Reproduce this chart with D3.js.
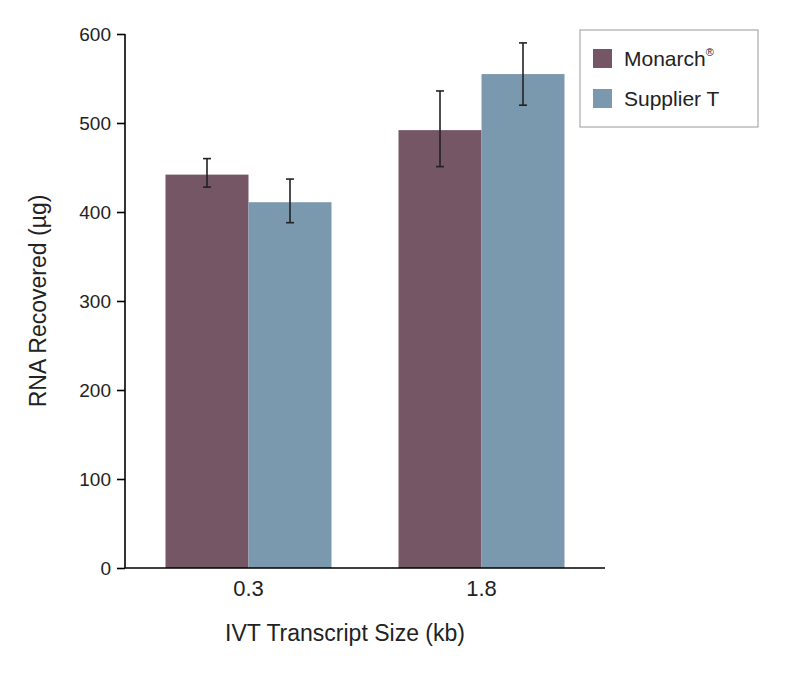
<!DOCTYPE html>
<html><head><meta charset="utf-8">
<script src="https://cdn.jsdelivr.net/npm/d3@7"></script>
<style>body{margin:0;background:#fff}</style>
</head><body>
<script>
var categories = ["0.3", "1.8"];
var seriesNames = ["Monarch", "Supplier T"];
var means = [[442, 492], [411, 555]];
var errLow = [[428, 451], [388, 520]];
var errHigh = [[460, 536], [437, 590]];
var yTicks = [0, 100, 200, 300, 400, 500, 600];
var colors = ["#745664", "#7b99ae"];

(function() {
var svg = d3.select("body").append("svg").attr("width", 785).attr("height", 675)
    .style("font-family", "Liberation Sans, Arial, sans-serif");

var pLeft = 125, pRight = 605, pTop = 34, pBottom = 568;
var x0 = d3.scaleBand().domain(categories).range([pLeft, pRight]).paddingInner(0.1).paddingOuter(0.08);
var yscale = d3.scaleLinear().domain([0, 600]).range([pBottom, pTop]);

// bars
var bw = 83;
categories.forEach(function(c, ci) {
    var cx = x0(c) + x0.bandwidth() / 2;
    seriesNames.forEach(function(s, si) {
        var xs = cx - bw + si * bw;
        svg.append("rect").attr("x", xs).attr("width", bw)
            .attr("y", yscale(means[si][ci])).attr("height", pBottom - yscale(means[si][ci]))
            .attr("fill", colors[si]);
        var mx = xs + bw / 2;
        svg.append("line").attr("x1", mx).attr("x2", mx)
            .attr("y1", yscale(errLow[si][ci])).attr("y2", yscale(errHigh[si][ci]))
            .attr("stroke", "#222").attr("stroke-width", 1.6);
        [errLow[si][ci], errHigh[si][ci]].forEach(function(v) {
            svg.append("line").attr("x1", mx - 4).attr("x2", mx + 4)
                .attr("y1", yscale(v)).attr("y2", yscale(v))
                .attr("stroke", "#222").attr("stroke-width", 1.6);
        });
    });
});

// axes
var ya = svg.append("g").attr("transform", "translate(" + pLeft + ",0)")
    .call(d3.axisLeft(yscale).tickValues(yTicks).tickSize(8).tickPadding(6));
ya.selectAll("text").attr("font-size", 19).attr("fill", "#222");
ya.select(".domain").attr("d", "M0," + pTop + "V" + pBottom).attr("stroke-width", 1.6);
ya.selectAll(".tick line").attr("stroke-width", 1.6);

var xa = svg.append("g").attr("transform", "translate(0," + pBottom + ")")
    .call(d3.axisBottom(x0).tickSize(0).tickPadding(12));
xa.selectAll("text").attr("font-size", 22).attr("fill", "#222");
xa.select(".domain").attr("d", "M" + pLeft + ",0H" + pRight).attr("stroke-width", 1.6);

svg.append("text").attr("x", 345).attr("y", 641).attr("text-anchor", "middle")
    .attr("font-size", 23).attr("fill", "#222").text("IVT Transcript Size (kb)");
svg.append("text").attr("transform", "translate(46,301) rotate(-90)").attr("text-anchor", "middle")
    .attr("font-size", 23).attr("fill", "#222").text("RNA Recovered (µg)");

// legend
svg.append("rect").attr("x", 580).attr("y", 30).attr("width", 178).attr("height", 97)
    .attr("fill", "#fff").attr("stroke", "#999");
seriesNames.forEach(function(s, i) {
    var yy = 49 + i * 40;
    svg.append("rect").attr("x", 593).attr("y", yy).attr("width", 19).attr("height", 19).attr("fill", colors[i]);
    var t = svg.append("text").attr("x", 624).attr("y", yy + 17).attr("font-size", 21).attr("fill", "#222").text(s);
    if (i === 0) t.append("tspan").attr("font-size", 11).attr("dy", -10).text("®");
});
})();
</script>
</body></html>
